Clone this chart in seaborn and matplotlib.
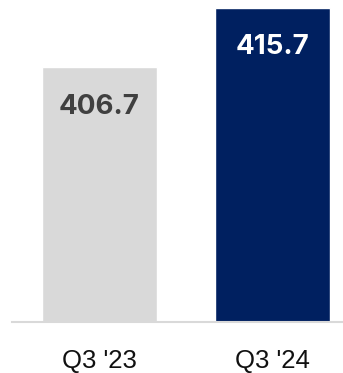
import seaborn as sns
import pandas as pd
import matplotlib.pyplot as plt

quarters = ["Q3 '23", "Q3 '24"]
values = [406.7, 415.7]
bar_colors = ["#D9D9D9", "#002060"]
label_colors = ["#404040", "#FFFFFF"]

df = pd.DataFrame({"quarter": quarters, "value": values})

sns.set_style("white")
plt.rcParams["font.family"] = ["Inter", "DejaVu Sans"]

fig = plt.figure(figsize=(3.43, 3.73), dpi=100)
ax = fig.add_axes([0.035, 0.1354, 0.965, 0.8646])

sns.barplot(data=df, x="quarter", y="value", hue="quarter", palette=bar_colors,
            width=0.665, legend=False, ax=ax, saturation=1)

ax.set_ylim(368, 416.9)
ax.set_xlim(-0.506, 1.407)

for i, v in enumerate(values):
    ax.annotate(f"{v:.1f}", (i, v), xytext=(0, -28.5), textcoords="offset points",
                ha="center", va="center", fontsize=20, fontweight="bold",
                color=label_colors[i])

sns.despine(ax=ax, left=True)
ax.spines["bottom"].set_color("#D9D9D9")
ax.spines["bottom"].set_linewidth(1.5)
ax.set_yticks([])
ax.set_xlabel("")
ax.set_ylabel("")
ax.tick_params(axis="x", length=0, pad=19, labelsize=18.5, labelcolor="#111111")
for lbl in ax.get_xticklabels():
    lbl.set_family(["Liberation Sans", "DejaVu Sans"])

fig.savefig("out.png", dpi=100)
